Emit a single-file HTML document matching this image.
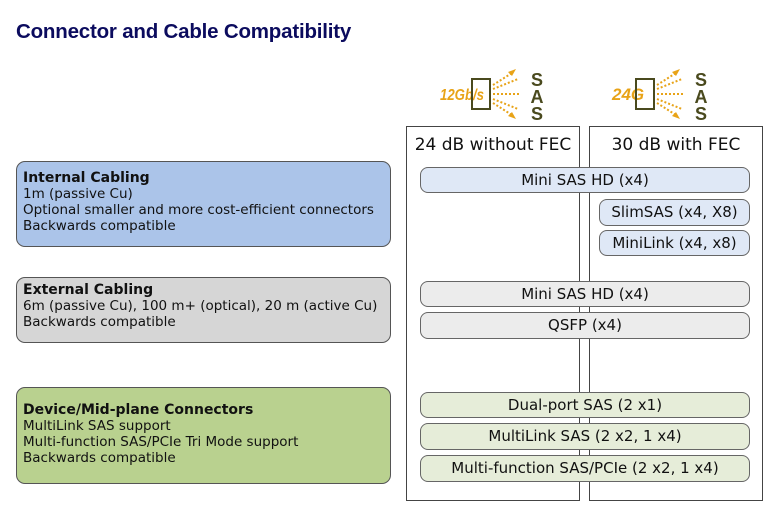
<!DOCTYPE html>
<html><head><meta charset="utf-8"><style>
body{margin:0;width:778px;height:517px;background:#fff;position:relative;overflow:hidden;font-family:"DejaVu Sans","Liberation Sans",sans-serif;color:#111}
.a{position:absolute;box-sizing:border-box}
.title{left:16px;top:20px;font-family:"Liberation Sans",sans-serif;font-weight:bold;font-size:20.5px;color:#0b0b5e;letter-spacing:-0.2px}
.lb{border:1px solid #555;border-radius:9px;font-size:13.5px;line-height:16px;padding:8px 6px;white-space:nowrap}
.lb b{font-size:14px}
.col{border:1px solid #444;background:#fff}
.hd{font-size:17px;text-align:center;width:100%;top:8px}
.pill{border:1px solid #666;border-radius:8px;font-size:15px;text-align:center;line-height:24px;white-space:nowrap}
.bl{background:#dfe8f6}.gr{background:#ececec}.gn{background:#e6edd9}
</style></head><body>
<div class="a title">Connector and Cable Compatibility</div>

<div class="a lb" style="left:16px;top:161px;width:375px;height:86px;background:#abc4e9"><b>Internal Cabling</b><br>1m (passive Cu)<br>Optional smaller and more cost-efficient connectors<br>Backwards compatible</div>
<div class="a lb" style="left:16px;top:277px;width:375px;height:66px;background:#d6d6d6;padding-top:4px"><b>External Cabling</b><br>6m (passive Cu), 100 m+ (optical), 20 m (active Cu)<br>Backwards compatible</div>
<div class="a lb" style="left:16px;top:387px;width:375px;height:97px;background:#b9d18f;padding-top:14px"><b>Device/Mid-plane Connectors</b><br>MultiLink SAS support<br>Multi-function SAS/PCIe Tri Mode support<br>Backwards compatible</div>

<svg class="a" style="left:430px;top:65px" width="340" height="60">
 <g>
  <text x="10" y="35" font-family="Liberation Sans" font-weight="bold" font-style="italic" font-size="16" fill="#e8a317" textLength="44" lengthAdjust="spacingAndGlyphs">12Gb/s</text>
  <rect x="42" y="14" width="18" height="30" fill="none" stroke="#4a4a1e" stroke-width="2"/>
  <g stroke="#e8a317" stroke-width="2" stroke-dasharray="2,2" fill="none">
   <line x1="63" y1="29" x2="90" y2="29"/><line x1="63" y1="24" x2="88" y2="14"/><line x1="63" y1="34" x2="88" y2="44"/>
   <line x1="63" y1="20" x2="82" y2="8"/><line x1="63" y1="38" x2="82" y2="50"/>
  </g>
  <polygon points="86,4 78,7 82,11" fill="#e8a317"/><polygon points="86,54 78,51 82,47" fill="#e8a317"/>
  <g font-family="Liberation Sans" font-weight="bold" font-size="18" fill="#4a4a1e" text-anchor="middle">
   <text x="107" y="21">S</text><text x="107" y="38">A</text><text x="107" y="55">S</text></g>
 </g>
 <g transform="translate(164,0)">
  <text x="18" y="35" font-family="Liberation Sans" font-weight="bold" font-style="italic" font-size="17" fill="#e8a317">24G</text>
  <rect x="42" y="14" width="18" height="30" fill="none" stroke="#4a4a1e" stroke-width="2"/>
  <g stroke="#e8a317" stroke-width="2" stroke-dasharray="2,2" fill="none">
   <line x1="63" y1="29" x2="90" y2="29"/><line x1="63" y1="24" x2="88" y2="14"/><line x1="63" y1="34" x2="88" y2="44"/>
   <line x1="63" y1="20" x2="82" y2="8"/><line x1="63" y1="38" x2="82" y2="50"/>
  </g>
  <polygon points="86,4 78,7 82,11" fill="#e8a317"/><polygon points="86,54 78,51 82,47" fill="#e8a317"/>
  <g font-family="Liberation Sans" font-weight="bold" font-size="18" fill="#4a4a1e" text-anchor="middle">
   <text x="107" y="21">S</text><text x="107" y="38">A</text><text x="107" y="55">S</text></g>
 </g>
</svg>

<div class="a col" style="left:406px;top:126px;width:174px;height:375px"><div class="a hd">24 dB without FEC</div></div>
<div class="a col" style="left:589px;top:126px;width:174px;height:375px"><div class="a hd">30 dB with FEC</div></div>

<div class="a pill bl" style="left:420px;top:167px;width:330px;height:26px">Mini SAS HD (x4)</div>
<div class="a pill bl" style="left:599px;top:199px;width:151px;height:27px">SlimSAS (x4, X8)</div>
<div class="a pill bl" style="left:599px;top:230px;width:151px;height:26px">MiniLink (x4, x8)</div>
<div class="a pill gr" style="left:420px;top:281px;width:330px;height:26px">Mini SAS HD (x4)</div>
<div class="a pill gr" style="left:420px;top:312px;width:330px;height:27px">QSFP (x4)</div>
<div class="a pill gn" style="left:420px;top:392px;width:330px;height:26px">Dual-port SAS (2 x1)</div>
<div class="a pill gn" style="left:420px;top:423px;width:330px;height:27px">MultiLink SAS (2 x2, 1 x4)</div>
<div class="a pill gn" style="left:420px;top:455px;width:330px;height:27px">Multi-function SAS/PCIe (2 x2, 1 x4)</div>
</body></html>
